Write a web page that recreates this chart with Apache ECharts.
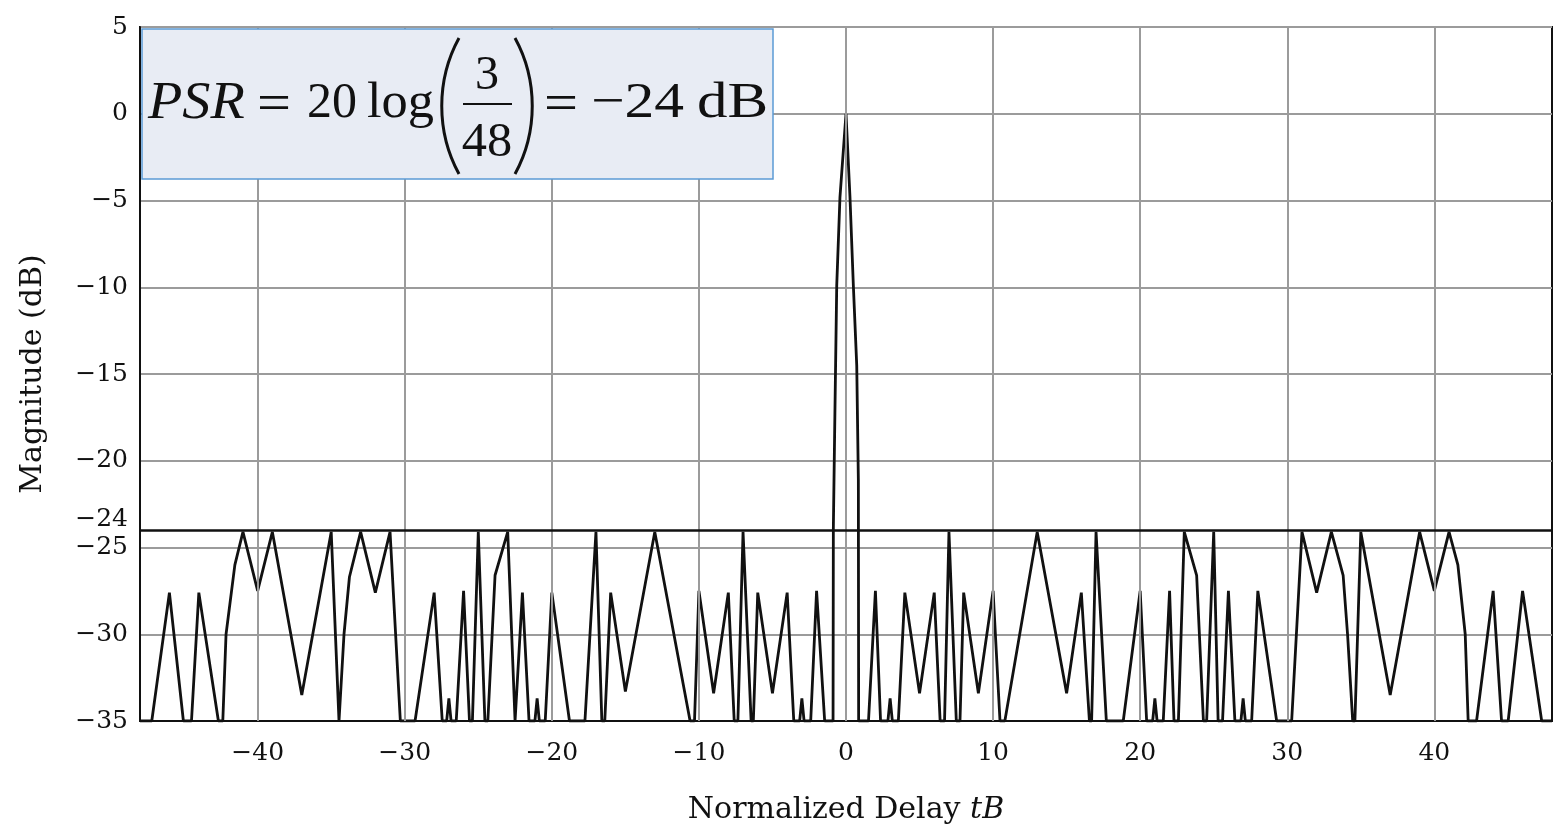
<!DOCTYPE html>
<html>
<head>
<meta charset="utf-8">
<title>PSR of a 48-element code</title>
<script src="https://cdn.jsdelivr.net/npm/echarts@6/dist/echarts.min.js"></script>
<style>
  html, body { margin: 0; padding: 0; background: #fff; }
  #chart { width: 1558px; height: 830px; }
</style>
</head>
<body>
<div id="chart"></div>
<script>
// Normalized delay tB of each traced point of the autocorrelation magnitude
const delay = [
  -48, -47.2, -46, -45.05, -44.5, -44, -42.67, -42.37, -42.15, -41.55, -41, -40, -39, -37, -35,
  -34.47, -34.38, -34.13, -33.76, -33, -32, -31, -30.3, -29.3, -28, -27.45, -27.15, -27, -26.85,
  -26.5, -26, -25.6, -25.4, -25, -24.55, -24.35, -23.86, -23, -22.5, -22.4, -22, -21.55, -21.15,
  -21, -20.85, -20.45, -20, -18.8, -17.75, -17, -16.6, -16.4, -16, -15, -13, -10.6, -10.3, -10,
  -9, -8, -7.6, -7.35, -7, -6.45, -6.3, -6, -5, -4, -3.55, -3.15, -3, -2.85, -2.4, -2, -1.45,
  -0.88, -0.86, -0.75, -0.63, -0.41, 0, 0.27, 0.5, 0.73, 0.84, 0.86,
  1.53, 2, 2.35, 2.85, 3, 3.15, 3.56, 4, 5, 6, 6.4, 6.7, 7, 7.5, 7.75, 8, 9, 10, 10.47, 10.8, 13,
  15, 16, 16.55, 16.7, 17, 17.7, 18.85, 20, 20.44, 20.85, 21, 21.15, 21.57, 22, 22.3, 22.6, 23,
  23.84, 24.3, 24.52, 25, 25.3, 25.6, 26, 26.44, 26.85, 27, 27.15, 27.58, 28, 29.28, 30.3, 31,
  32, 33, 33.8, 34.1, 34.45, 34.6, 35, 37, 39, 40, 41, 41.6, 42.1, 42.3, 42.87, 44, 44.57, 45.02,
  46, 47.3, 48
];
// Magnitude in dB at those delays (the plot floor is -35 dB)
const magnitudeDb = [
  -35, -35, -27.6, -35, -35, -27.6, -35, -35, -30, -26, -24.1, -27.5, -24.1, -33.5, -24.1,
  -35, -35, -30, -26.7, -24.1, -27.6, -24.1, -35, -35, -27.6, -35, -35, -33.7, -35,
  -35, -27.5, -35, -35, -24.1, -35, -35, -26.6, -24.1, -35, -35, -27.6, -35, -35,
  -33.7, -35, -35, -27.6, -35, -35, -24.1, -35, -35, -27.6, -33.3, -24.1, -35, -35, -27.5,
  -33.4, -27.6, -35, -35, -24.1, -35, -35, -27.6, -33.4, -27.6, -35, -35, -33.7, -35, -35, -27.5, -35,
  -35, -23.9, -17, -9.9, -4.8, 0, -4.8, -9.9, -14.5, -21.1, -35,
  -35, -27.5, -35, -35, -33.7, -35, -35, -27.6, -33.4, -27.6, -35, -35, -24.1, -35, -35, -27.6, -33.4, -27.5, -35, -35, -24.1,
  -33.4, -27.6, -35, -35, -24.1, -35, -35, -27.5, -35, -35, -33.7, -35, -35, -27.5, -35, -35, -24.1,
  -26.6, -35, -35, -24.1, -35, -35, -27.5, -35, -35, -33.7, -35, -35, -27.5, -35, -35, -24.1,
  -27.6, -24.1, -26.6, -30, -35, -35, -24.1, -33.5, -24.1, -27.5, -24.1, -26, -30, -35, -35, -27.5, -35, -35,
  -27.5, -35, -35
];
// Labelled delays on the horizontal axis
const delayTicks = [-40, -30, -20, -10, 0, 10, 20, 30, 40];
// Peak sidelobe level: 20 log(3/48)
const psrLevelDb = -24;
const psrLabel = '\u221224';

const minus = s => String(s).replace('-', '\u2212');
const tickFont = { fontFamily: 'DejaVu Serif', fontSize: 25, color: '#111' };
const mathFont = '"Liberation Serif"';

// one piece of the formula in the annotation box
function mathText(x, y, text, size, opts) {
  opts = opts || {};
  return {
    type: 'text', x: x, y: y, z: 101,
    scaleX: opts.scaleX || 1,
    style: {
      text: text,
      font: (opts.italic ? 'italic ' : '') + size + 'px ' + mathFont,
      fill: '#111',
      align: opts.align || 'left',
      verticalAlign: 'middle'
    }
  };
}

const chart = echarts.init(document.getElementById('chart'), null, { renderer: 'canvas' });

chart.setOption({
  animation: false,
  backgroundColor: '#ffffff',
  grid: {
    left: 140, right: 6, top: 27, bottom: 108,
    show: true, borderColor: '#111', borderWidth: 2, backgroundColor: '#fff'
  },
  xAxis: {
    type: 'value',
    min: -48, max: 48,
    name: 'Normalized Delay {i|tB}',
    nameLocation: 'middle',
    nameGap: 74,
    nameTextStyle: {
      fontFamily: 'DejaVu Serif', fontSize: 30, color: '#111',
      rich: { i: { fontFamily: 'DejaVu Serif', fontStyle: 'italic', fontSize: 30, color: '#111' } }
    },
    axisLine: { onZero: false, lineStyle: { color: '#111', width: 2 } },
    axisTick: { show: false },
    splitLine: { show: false },
    axisLabel: Object.assign({ customValues: delayTicks, margin: 20, formatter: minus }, tickFont)
  },
  yAxis: {
    type: 'value',
    min: -35, max: 5, interval: 5,
    name: 'Magnitude (dB)',
    nameLocation: 'middle',
    nameGap: 92,
    nameTextStyle: { fontFamily: 'DejaVu Serif', fontSize: 30, color: '#111' },
    axisLine: { show: true, onZero: false, lineStyle: { color: '#111', width: 2 } },
    axisTick: { show: false },
    splitLine: { lineStyle: { color: '#9b9b9b', width: 2 } },
    axisLabel: Object.assign({ margin: 12, formatter: minus }, tickFont)
  },
  series: [
    {
      // vertical grid lines at the labelled delays
      type: 'line', data: [], z: 1, silent: true,
      markLine: {
        silent: true, symbol: ['none', 'none'], animation: false,
        label: { show: false },
        lineStyle: { color: '#9b9b9b', width: 2, type: 'solid' },
        data: delayTicks.map(v => ({ xAxis: v }))
      }
    },
    {
      // peak sidelobe level line
      type: 'line', data: [], z: 2, silent: true,
      markLine: {
        silent: true, symbol: ['none', 'none'], animation: false,
        lineStyle: { color: '#111', width: 2.5, type: 'solid' },
        label: Object.assign({
          show: true, position: 'start', formatter: psrLabel,
          distance: 12, align: 'right', verticalAlign: 'bottom', lineHeight: 22
        }, tickFont),
        data: [{ yAxis: psrLevelDb }]
      }
    },
    {
      type: 'line',
      z: 3,
      data: delay.map((t, i) => [t, magnitudeDb[i]]),
      showSymbol: false,
      clip: true,
      lineStyle: { color: '#111', width: 2.8 }
    }
  ],
  graphic: {
    zlevel: 1,
    elements: [
      { type: 'rect', z: 100, shape: { x: 142, y: 29, width: 631, height: 150 },
        style: { fill: '#e8ecf4', stroke: '#5b9bd5', lineWidth: 1.5 } },
      mathText(148, 104, 'PSR', 52, { italic: true, scaleX: 1.08 }),
      mathText(257, 106, '=', 52, { scaleX: 1.16 }),
      mathText(307, 104, '20', 50),
      mathText(367, 104, 'log', 50, { scaleX: 1.05 }),
      { type: 'bezierCurve', z: 101, shape: { x1: 459, y1: 38, cpx1: 436, cpy1: 80, cpx2: 436, cpy2: 132, x2: 459, y2: 174 },
        style: { stroke: '#111', lineWidth: 3, fill: null } },
      mathText(487, 76, '3', 48, { align: 'center' }),
      { type: 'line', z: 101, shape: { x1: 463, y1: 104, x2: 512, y2: 104 }, style: { stroke: '#111', lineWidth: 2 } },
      mathText(487, 143, '48', 48, { align: 'center', scaleX: 1.05 }),
      { type: 'bezierCurve', z: 101, shape: { x1: 515, y1: 38, cpx1: 538, cpy1: 80, cpx2: 538, cpy2: 132, x2: 515, y2: 174 },
        style: { stroke: '#111', lineWidth: 3, fill: null } },
      mathText(544, 106, '=', 52, { scaleX: 1.16 }),
      mathText(591, 104, '\u221224', 50, { scaleX: 1.19 }),
      mathText(697, 104, 'dB', 50, { scaleX: 1.22 })
    ]
  }
});
</script>
</body>
</html>
